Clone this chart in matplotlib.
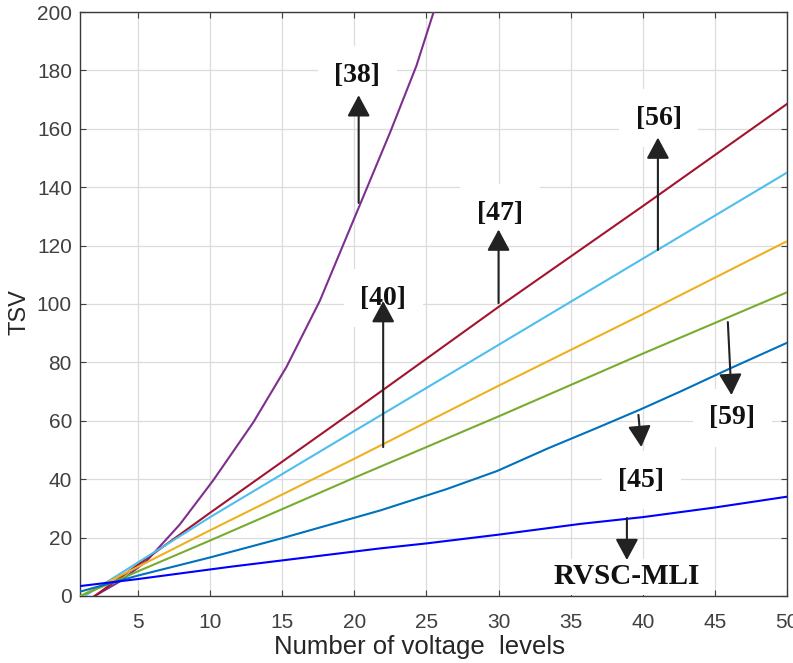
import matplotlib
matplotlib.use("Agg")
import matplotlib.pyplot as plt

# ---- data ----
x_ref38 = [2.0, 3.75, 5.6, 7.9, 10.2, 13.0, 15.3, 17.6, 20.6, 22.5, 24.3, 25.5]
y_ref38 = [0, 5.0, 12.0, 24.5, 39.5, 59.5, 78.5, 101, 136.5, 159, 181.5, 200]

x_ref56 = [2, 10, 20, 30, 40, 50]
y_ref56 = [0, 28.5, 63.5, 99, 133.5, 168.5]

x_cyan = [1.3, 10, 20, 30, 40, 50]
y_cyan = [0, 27, 56.5, 86, 115.5, 145]

x_yellow = [1, 10, 20, 30, 40, 50]
y_yellow = [0, 22.5, 47, 72, 96.5, 121.5]

x_green = [1, 10, 20, 30, 40, 50]
y_green = [0, 19, 40.5, 61.5, 83, 104]

x_ref45 = [1, 5, 10, 15, 21.8, 26.4, 29.9, 33.4, 36.8, 39.8, 42.6, 46, 50]
y_ref45 = [1.5, 7, 13.2, 19.8, 29.3, 36.6, 42.8, 50.5, 57.5, 63.8, 70.0, 77.8, 86.7]

x_rvsc = [1, 5, 11.4, 21.8, 25, 30, 35.7, 40, 45, 50]
y_rvsc = [3.4, 5.8, 10, 16.3, 18, 21, 24.7, 27, 30.3, 34]

xticks = [5, 10, 15, 20, 25, 30, 35, 40, 45, 50]
yticks = [0, 20, 40, 60, 80, 100, 120, 140, 160, 180, 200]

# annotations: label, text position, arrow start, arrow tip
ann_labels = ["[38]", "[40]", "[47]", "[56]", "[59]", "[45]", "RVSC-MLI"]
ann_text_xy = [(20.2, 178.4), (22.0, 102.0), (30.1, 131.0), (41.1, 163.6),
               (46.2, 61.0), (39.9, 39.7), (38.9, 6.5)]
ann_start_xy = [(20.3, 134.6), (22.0, 51.0), (30.0, 100.3), (41.05, 118.5),
                (45.9, 93.8), (39.7, 62.0), (38.9, 26.7)]
ann_tip_xy = [(20.3, 171.5), (22.0, 101.0), (30.0, 125.5), (41.05, 157.0),
              (46.15, 68.8), (39.9, 51.0), (38.9, 12.3)]

fig = plt.figure(figsize=(7.93, 6.63), dpi=100)
ax = fig.add_axes([0.1013, 0.1011, 0.8911, 0.8808])

lw = 1.5
ax.plot(x_ref38, y_ref38, color="#7E2F8E", lw=lw, zorder=3)
ax.plot(x_ref56, y_ref56, color="#A2142F", lw=lw, zorder=3)
ax.plot(x_cyan, y_cyan, color="#4DBEEE", lw=lw, zorder=3)
ax.plot(x_yellow, y_yellow, color="#EDB120", lw=lw, zorder=3)
ax.plot(x_green, y_green, color="#77AC30", lw=lw, zorder=3)
ax.plot(x_ref45, y_ref45, color="#0072BD", lw=lw, zorder=3)
ax.plot(x_rvsc, y_rvsc, color="#0000FF", lw=lw, zorder=3)

ax.set_xlim(1, 50)
ax.set_ylim(0, 200)
ax.set_xticks(xticks)
ax.set_yticks(yticks)
ax.grid(True, color="#dcdcdc", lw=0.9, zorder=0.5)
ax.set_axisbelow(True)

ax.tick_params(axis="both", which="both", direction="in", length=4.5,
               top=True, right=True, colors="#404040", labelcolor="#404040",
               width=0.8)
ax.tick_params(axis="x", pad=12)
ax.tick_params(axis="y", pad=6)
for lab in ax.get_xticklabels() + ax.get_yticklabels():
    lab.set_fontfamily("Liberation Sans")
    lab.set_fontsize(15)
for s in ax.spines.values():
    s.set_color("#3a3a3a")
    s.set_linewidth(1.0)

ax.set_xlabel("Number of voltage  levels", family="Liberation Sans",
              size=18.5, color="#262626")
ax.xaxis.set_label_coords(0.48, -0.066)
ax.set_ylabel("TSV", family="Liberation Sans", size=17, color="#262626")
ax.yaxis.set_label_coords(-0.071, 0.486)

for lab, txy, sxy, pxy in zip(ann_labels, ann_text_xy, ann_start_xy, ann_tip_xy):
    fs = 21 if lab == "RVSC-MLI" else 20
    pad = 0.15 if lab == "RVSC-MLI" else 0.6
    ax.text(txy[0], txy[1], lab, family="Liberation Serif", weight="bold",
            size=fs, ha="center", va="center", color="#111111", zorder=1.5,
            bbox=dict(boxstyle="square,pad=%s" % pad, fc="white", ec="none"))
    ax.annotate("", xy=pxy, xytext=sxy,
                arrowprops=dict(arrowstyle="-|>,head_width=0.35,head_length=0.65",
                                mutation_scale=20, color="#222222", lw=1.5,
                                shrinkA=0, shrinkB=0),
                zorder=4)

fig.savefig("out.png", dpi=100)
